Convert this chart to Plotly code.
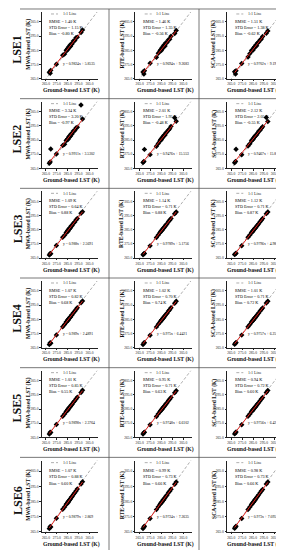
import plotly.graph_objects as go

# ---------------- data ----------------
rows = ["LSE1", "LSE2", "LSE3", "LSE4", "LSE5", "LSE6"]
methods = ["MWA", "RTE", "SCA"]
tick_vals = [265.0, 275.0, 285.0, 295.0, 305.0]

ground = [268.1, 268.9, 269.4, 274.6, 280.4, 282.1, 283.6, 284.3, 284.9, 285.4, 285.9,
          286.5, 287.0, 287.6, 288.3, 289.1, 290.2, 291.5, 292.6, 293.8, 297.2, 298.6]

MWA1 = [269.6, 268.9, 270.9, 275.2, 281.5, 282.4, 285.1, 284.8, 286.3, 285.9, 287.4, 287.1, 288.6, 287.9, 289.5, 289.7, 291.6, 292.0, 293.9, 294.3, 297.6, 299.4]
RTE1 = [269.8, 268.4, 270.6, 275.9, 280.1, 282.9, 284.6, 285.5, 284.8, 286.7, 286.2, 287.8, 287.3, 288.9, 288.1, 290.3, 290.6, 292.5, 292.8, 294.9, 296.8, 298.9]
SCA1 = [269.9, 268.3, 270.7, 275.8, 280.3, 282.7, 284.8, 285.3, 285.0, 286.5, 286.4, 287.6, 287.5, 288.7, 288.3, 290.1, 290.8, 292.3, 293.0, 294.7, 297.0, 298.7]
MWA2 = [268.7, 269.6, 278.6, 275.1, 281.2, 282.0, 284.7, 285.0, 285.8, 285.6, 287.1, 286.9, 288.2, 287.8, 289.4, 289.4, 291.3, 291.7, 293.5, 294.0, 309.6, 299.8]
RTE2 = [269.1, 269.9, 278.4, 274.7, 280.6, 282.5, 284.3, 285.4, 285.1, 286.3, 286.6, 287.5, 287.6, 288.6, 288.5, 289.9, 290.9, 292.1, 293.0, 294.6, 300.6, 298.2]
SCA2 = [269.0, 269.8, 278.5, 274.6, 280.8, 282.3, 284.5, 285.2, 285.3, 286.1, 286.8, 287.3, 287.8, 288.4, 288.7, 289.7, 291.1, 291.9, 293.2, 294.4, 300.9, 298.0]
MWA3 = [267.2, 268.3, 268.0, 273.9, 279.6, 281.0, 283.1, 283.2, 284.4, 284.1, 285.3, 285.5, 286.3, 286.4, 287.7, 287.9, 289.6, 290.4, 291.9, 292.8, 296.5, 297.7]
RTE3 = [267.4, 268.1, 268.3, 273.6, 279.5, 281.3, 282.9, 283.5, 284.2, 284.5, 285.0, 285.8, 286.0, 286.7, 287.4, 288.3, 289.1, 290.7, 291.6, 292.9, 296.2, 297.4]
SCA3 = [267.5, 268.0, 268.4, 273.7, 279.6, 281.2, 283.0, 283.4, 284.3, 284.4, 285.1, 285.7, 286.1, 286.6, 287.5, 288.2, 289.2, 290.6, 291.7, 292.8, 296.3, 297.5]
MWA4 = [267.3, 268.5, 268.2, 274.0, 279.8, 281.3, 283.2, 283.5, 284.5, 284.3, 285.4, 285.8, 286.4, 286.7, 287.8, 288.2, 289.7, 290.7, 292.0, 293.1, 296.6, 298.0]
RTE4 = [267.3, 268.3, 268.6, 273.8, 279.7, 281.5, 283.0, 283.7, 284.3, 284.7, 285.1, 286.0, 286.1, 286.9, 287.5, 288.5, 289.3, 290.9, 291.8, 293.1, 296.4, 297.7]
SCA4 = [267.4, 268.2, 268.7, 273.9, 279.8, 281.4, 283.1, 283.6, 284.4, 284.6, 285.2, 285.9, 286.2, 286.8, 287.6, 288.4, 289.4, 290.8, 291.9, 293.0, 296.5, 297.8]
MWA5 = [267.4, 268.6, 268.4, 274.1, 279.9, 281.5, 283.3, 283.7, 284.6, 284.5, 285.5, 286.0, 286.5, 286.9, 287.9, 288.4, 289.8, 290.9, 292.1, 293.3, 296.7, 298.2]
RTE5 = [267.4, 268.4, 268.7, 273.9, 279.8, 281.6, 283.1, 283.8, 284.4, 284.8, 285.2, 286.1, 286.2, 287.0, 287.6, 288.6, 289.4, 291.0, 291.9, 293.2, 296.5, 297.9]
SCA5 = [267.5, 268.3, 268.8, 274.0, 279.9, 281.5, 283.2, 283.7, 284.5, 284.7, 285.3, 286.0, 286.3, 286.9, 287.7, 288.5, 289.5, 290.9, 292.0, 293.1, 296.6, 298.0]
MWA6 = [267.3, 268.6, 268.3, 274.0, 279.9, 281.4, 283.2, 283.6, 284.5, 284.4, 285.4, 285.9, 286.4, 286.8, 287.8, 288.3, 289.7, 290.8, 292.0, 293.2, 296.6, 298.1]
RTE6 = [267.3, 268.3, 268.7, 273.9, 279.7, 281.5, 283.0, 283.7, 284.3, 284.7, 285.1, 286.0, 286.1, 286.9, 287.5, 288.5, 289.3, 290.9, 291.8, 293.1, 296.4, 297.8]
SCA6 = [267.4, 268.2, 268.8, 273.9, 279.8, 281.4, 283.1, 283.6, 284.4, 284.6, 285.2, 285.9, 286.2, 286.8, 287.6, 288.4, 289.4, 290.8, 291.9, 293.0, 296.5, 297.9]

estimates = [[MWA1, RTE1, SCA1], [MWA2, RTE2, SCA2], [MWA3, RTE3, SCA3],
             [MWA4, RTE4, SCA4], [MWA5, RTE5, SCA5], [MWA6, RTE6, SCA6]]

rmse = [[1.40, 1.46, 1.51], [3.34, 2.01, 2.12], [1.09, 1.14, 1.12],
        [1.07, 1.02, 1.01], [1.01, 0.95, 0.94], [1.07, 0.99, 0.98]]
std_err = [[1.15, 1.35, 1.38], [3.20, 1.95, 2.05], [0.64, 0.71, 0.71],
           [0.82, 0.70, 0.71], [0.85, 0.71, 0.72], [0.88, 0.73, 0.73]]
bias = [[-0.80, -0.56, -0.62], [-0.97, -0.48, -0.55], [0.88, 0.88, 0.87],
        [0.68, 0.74, 0.72], [0.55, 0.63, 0.60], [0.60, 0.66, 0.66]]
slope = [[0.9824, 0.9694, 0.9702], [0.9911, 0.9476, 0.9467], [0.988, 0.9789, 0.9796],
         [0.989, 0.975, 0.9757], [0.9898, 0.9748, 0.9756], [0.9879, 0.9724, 0.973]]
slope_txt = [["0.9824", "0.9694", "0.9702"], ["0.9911", "0.9476", "0.9467"], ["0.988", "0.9789", "0.9796"],
             ["0.989", "0.975", "0.9757"], ["0.9898", "0.9748", "0.9756"], ["0.9879", "0.9724", "0.973"]]
intercept = [[5.8535, 9.2683, 9.1915], [3.5302, 15.553, 15.878], [2.5691, 5.1756, 4.9869],
             [2.4891, 6.4421, 6.2599], [2.3764, 6.6102, 6.4233], [2.869, 7.2635, 7.0951]]
intercept_txt = [["5.8535", "9.2683", "9.1915"], ["3.5302", "15.553", "15.878"], ["2.5691", "5.1756", "4.9869"],
                 ["2.4891", "6.4421", "6.2599"], ["2.3764", "6.6102", "6.4233"], ["2.869", "7.2635", "7.0951"]]

# ---------------- layout geometry (pixels) ----------------
W, H = 284, 550
FONT = "Liberation Serif"
col_off = [0.0, 93.7, 185.3]
title_off = [0.0, 93.7, 183.5]
row_top = [1.5, 91.5, 181.5, 271.5, 361.5, 451.5]
row_scale = [1.0, 1.0, 1.0, 1.0, 1.0, 1.07]
x_dom_px = (33.6, 90.2)
X_RANGE = [261, 313]
Y_RANGE = [265, 312]


def fx(px):
    return px / W


def fy(py):
    return 1 - py / H


fig = go.Figure()
annotations = []
shapes = []
layout_axes = {}

k = 0
for r in range(6):
    T = row_top[r]
    s = row_scale[r]
    for c in range(3):
        k += 1
        xa = "x" if k == 1 else f"x{k}"
        ya = "y" if k == 1 else f"y{k}"
        xkey = "xaxis" if k == 1 else f"xaxis{k}"
        ykey = "yaxis" if k == 1 else f"yaxis{k}"
        off = col_off[c]
        y_top = T + 2.5 * s
        y_bot = T + 69.5 * s
        axis_common = dict(
            showgrid=False, zeroline=False, showline=True,
            linecolor="#222", linewidth=0.7, ticks="outside", ticklen=1.5,
            tickwidth=0.5, tickcolor="#222", tickvals=tick_vals,
            ticktext=[f"{v:.1f}" for v in tick_vals],
            tickfont=dict(family=FONT, size=3.6, color="#222"),
            ticklabelstandoff=0, tickangle=0,
        )
        layout_axes[xkey] = dict(axis_common, range=X_RANGE, anchor=ya,
                                 domain=[fx(off + x_dom_px[0]), fx(off + x_dom_px[1])])
        layout_axes[ykey] = dict(axis_common, range=Y_RANGE, anchor=xa,
                                 domain=[fy(y_bot), fy(y_top)])

        est = estimates[r][c]
        # 1:1 line
        fig.add_trace(go.Scatter(x=[X_RANGE[0], X_RANGE[1]], y=[X_RANGE[0], X_RANGE[1]],
                                 mode="lines", xaxis=xa, yaxis=ya,
                                 line=dict(color="#777", width=0.6, dash="3px,2px"),
                                 showlegend=False, hoverinfo="skip"))
        # points
        fig.add_trace(go.Scatter(x=ground, y=est, mode="markers", xaxis=xa, yaxis=ya,
                                 marker=dict(symbol="diamond", size=4.2, color="black",
                                             line=dict(width=0)),
                                 showlegend=False))
        # regression line
        gx = [min(ground), max(ground)]
        gy = [slope[r][c] * v + intercept[r][c] for v in gx]
        fig.add_trace(go.Scatter(x=gx, y=gy, mode="lines", xaxis=xa, yaxis=ya,
                                 line=dict(color="#e0201b", width=1.0),
                                 showlegend=False, hoverinfo="skip"))

        # legend sample + text
        shapes.append(dict(type="line", xref="paper", yref="paper",
                           x0=fx(off + 43), x1=fx(off + 50),
                           y0=fy(T + 4.5 * s), y1=fy(T + 4.5 * s),
                           line=dict(color="#777", width=0.6, dash="3px,2px")))
        annotations.append(dict(text="1:1 Line", xref="paper", yref="paper",
                                x=fx(off + 52.5), y=fy(T + 4.5 * s), xanchor="left", yanchor="middle",
                                showarrow=False, font=dict(family=FONT, size=4.0, color="#222")))
        stat_lines = [f"RMSE = {rmse[r][c]:.2f} K",
                      f"STD Error = {std_err[r][c]:.2f} K",
                      f"Bias = {bias[r][c]:.2f} K"]
        for i, t in enumerate(stat_lines):
            annotations.append(dict(text=t, xref="paper", yref="paper",
                                    x=fx(off + 39.3), y=fy(T + (11.8 + 6.0 * i) * s),
                                    xanchor="left", yanchor="middle", showarrow=False,
                                    font=dict(family=FONT, size=4.2, color="#000")))
        annotations.append(dict(text=f"y = {slope_txt[r][c]}x + {intercept_txt[r][c]}",
                                xref="paper", yref="paper",
                                x=fx(off + 53), y=fy(T + 55.2 * s), xanchor="left", yanchor="middle",
                                showarrow=False, font=dict(family=FONT, size=3.7, color="#000")))
        # axis titles
        annotations.append(dict(text="<b>Ground-based LST (K)</b>", xref="paper", yref="paper",
                                x=fx(title_off[c] + 63.5), y=fy(T + 81.5 * s), xanchor="center", yanchor="middle",
                                showarrow=False, font=dict(family=FONT, size=5.7, color="#111")))
        annotations.append(dict(text=f"<b>{methods[c]}-based LST (K)</b>", xref="paper", yref="paper",
                                x=fx(off + 20.5), y=fy(T + 35 * s), xanchor="center", yanchor="middle",
                                textangle=-90, showarrow=False,
                                font=dict(family=FONT, size=5.6, color="#111")))
    # row label
    annotations.append(dict(text=f"<b>{rows[r]}</b>", xref="paper", yref="paper",
                            x=fx(9.5), y=fy(T + 40 * s), xanchor="center", yanchor="middle",
                            textangle=-90, showarrow=False,
                            font=dict(family=FONT, size=12, color="#111")))

# table lines
for yy in [1, 91, 181, 271, 361, 451, 547]:
    shapes.append(dict(type="line", xref="paper", yref="paper", x0=fx(12), x1=fx(283),
                       y0=fy(yy), y1=fy(yy), line=dict(color="#555", width=0.8)))
for xx in [101, 191, 283]:
    shapes.append(dict(type="line", xref="paper", yref="paper", x0=fx(xx), x1=fx(xx),
                       y0=fy(1), y1=fy(547), line=dict(color="#555", width=0.8)))

fig.update_layout(
    width=W, height=H, margin=dict(l=0, r=0, t=0, b=0),
    paper_bgcolor="white", plot_bgcolor="white",
    showlegend=False, annotations=annotations, shapes=shapes,
    **layout_axes,
)
fig.write_html("out.html", config={"displayModeBar": False})
